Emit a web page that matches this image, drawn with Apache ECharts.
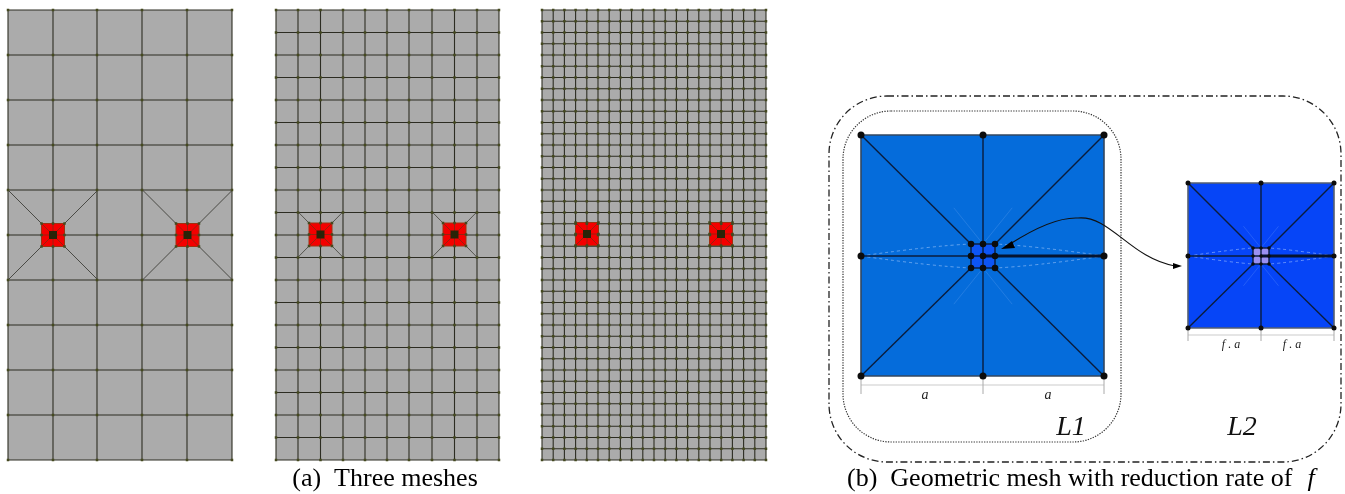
<!DOCTYPE html>
<html><head><meta charset="utf-8">
<style>html,body{margin:0;padding:0;background:#fff}#c{width:1345px;height:494px}</style>
<script src="https://cdn.jsdelivr.net/npm/echarts@6/dist/echarts.min.js"></script>
</head><body><div id="c"></div>
<script>
const mesh1X=[8,53,97,142,187,232];
const mesh1Y=[10,55,100,145,190,235,280,325,370,415,460];
const mesh2X=[276,298,320.5,343,365,387,409,432,454.5,477,499];
const mesh2Y=[10,32.5,55,77.5,100,122.5,145,167.5,190,212.5,235,257.5,280,302.5,325,347.5,370,392.5,415,437.5,460];
const mesh3X=[542,553.2,564.4,575.6,586.8,598,609.2,620.4,631.6,642.8,654,665.2,676.4,687.6,698.8,710,721.2,732.4,743.6,754.8,766];
const mesh3Y=[10,21.25,32.5,43.75,55,66.25,77.5,88.75,100,111.25,122.5,133.75,145,156.25,167.5,178.75,190,201.25,212.5,223.75,235,246.25,257.5,268.75,280,291.25,302.5,313.75,325,336.25,347.5,358.75,370,381.25,392.5,403.75,415,426.25,437.5,448.75,460];
const mesh1Holes=[[53,235],[187.5,235]];
const mesh2Holes=[[320.5,234.5],[454.5,234.5]];
const mesh3Holes=[[587,234],[721,234]];
const captionA=["(a)  Three meshes",385,479];
const captionB=["(b)  Geometric mesh with reduction rate of",847,479];
const captionF=["f",1311,479];
const levelLabels=[["L1",1071,428],["L2",1242,428]];
const dimLabels1=[["a",925,395],["a",1048,395]];
const dimLabels2=[["f . a",1231,345],["f . a",1292,345]];
const square1={left:861,right:1104,top:135,bottom:376,cx:983,cy:256,inner:12};
const square2={left:1188,right:1334,top:183,bottom:328,cx:1261,cy:256,inner:8};
const outerFrame=[829,96,1341,462];
const innerFrame=[843,111,1121,442];
const arrowCurve=[[1010,244,1035,228,1058,217,1078,218],[1078,218,1110,215,1130,258,1175,266]];
const arrowHeads=[[1001,249,1012,241,1015,248],[1182,266,1173,263,1173,269]];

function seg(rows,name,color,width,z,dash){
  return {type:'custom',name,coordinateSystem:'cartesian2d',silent:true,z,clip:false,data:rows,
    renderItem(p,api){
      const a=api.coord([api.value(0),api.value(1)]),b=api.coord([api.value(2),api.value(3)]);
      return {type:'line',shape:{x1:a[0],y1:a[1],x2:b[0],y2:b[1]},style:{stroke:color,lineWidth:width,lineDash:dash||null,fill:null}};
    }};
}
function rects(rows,name,fill,z,stroke){
  return {type:'custom',name,coordinateSystem:'cartesian2d',silent:true,z,clip:false,data:rows,
    renderItem(p,api){
      const a=api.coord([api.value(0),api.value(1)]),b=api.coord([api.value(2),api.value(3)]);
      return {type:'rect',shape:{x:a[0],y:a[1],width:b[0]-a[0],height:b[1]-a[1]},style:{fill,stroke:stroke||null,lineWidth:stroke?1:0}};
    }};
}
function frame(box,name,color,width,r,dash){
  return {type:'custom',name,coordinateSystem:'cartesian2d',silent:true,z:3,clip:false,data:[box],
    renderItem(p,api){
      const a=api.coord([api.value(0),api.value(1)]),b=api.coord([api.value(2),api.value(3)]);
      return {type:'rect',shape:{x:a[0],y:a[1],width:b[0]-a[0],height:b[1]-a[1],r},style:{fill:null,stroke:color,lineWidth:width,lineDash:dash}};
    }};
}
function quad(rows,name,color,width,z,dash){
  return {type:'custom',name,coordinateSystem:'cartesian2d',silent:true,z,clip:false,data:rows,
    renderItem(p,api){
      const a=api.coord([api.value(0),api.value(1)]),c=api.coord([api.value(2),api.value(3)]),b=api.coord([api.value(4),api.value(5)]);
      return {type:'bezierCurve',shape:{x1:a[0],y1:a[1],cpx1:c[0],cpy1:c[1],x2:b[0],y2:b[1]},style:{fill:null,stroke:color,lineWidth:width,lineDash:dash||null}};
    }};
}
function cubic(rows,name,color,width,z){
  return {type:'custom',name,coordinateSystem:'cartesian2d',silent:true,z,clip:false,data:rows,
    renderItem(p,api){
      const a=api.coord([api.value(0),api.value(1)]),c=api.coord([api.value(2),api.value(3)]),d=api.coord([api.value(4),api.value(5)]),b=api.coord([api.value(6),api.value(7)]);
      return {type:'bezierCurve',shape:{x1:a[0],y1:a[1],cpx1:c[0],cpy1:c[1],cpx2:d[0],cpy2:d[1],x2:b[0],y2:b[1]},style:{fill:null,stroke:color,lineWidth:width}};
    }};
}
function tris(rows,name,fill,z){
  return {type:'custom',name,coordinateSystem:'cartesian2d',silent:true,z,clip:false,data:rows,
    renderItem(p,api){
      const pts=[0,2,4].map(i=>api.coord([api.value(i),api.value(i+1)]));
      return {type:'polygon',shape:{points:pts},style:{fill}};
    }};
}
function nodes(pts,name,symbol,size,color,z){
  return {type:'scatter',name,data:pts,symbol,symbolSize:size,silent:true,z,clip:false,itemStyle:{color,opacity:1},animation:false};
}
function texts(rows,name,font,style,size,color,align){
  return {type:'custom',name,coordinateSystem:'cartesian2d',silent:true,z:9,clip:false,
    data:rows.map(r=>[r[1],r[2],r[0]]),
    renderItem(p,api){
      const a=api.coord([api.value(0),api.value(1)]);
      return {type:'text',x:a[0],y:a[1],style:{text:String(api.value(2)),fontFamily:font,fontStyle:style,fontSize:size,fill:color,align:align,verticalAlign:'middle'}};
    },
    encode:{x:0,y:1}, dimensions:['x','y',{name:'t',type:'ordinal'}]};
}

function gridSegs(X,Y){
  const out=[];
  X.forEach(x=>out.push([x,Y[0],x,Y[Y.length-1]]));
  Y.forEach(y=>out.push([X[0],y,X[X.length-1],y]));
  return out;
}
function gridNodes(X,Y){const o=[];X.forEach(x=>Y.forEach(y=>o.push([x,y])));return o;}
const RH=11.5, DH=4;
function holeParts(holes){
  const red=[],dark=[],inner=[],nd=[];
  holes.forEach(([x,y])=>{
    red.push([x-RH,y-RH,x+RH,y+RH]);
    dark.push([x-DH,y-DH,x+DH,y+DH]);
    [[-1,-1],[1,-1],[-1,1],[1,1]].forEach(([i,j])=>{
      inner.push([x+i*RH,y+j*RH,x+i*DH,y+j*DH]);
      nd.push([x+i*RH,y+j*RH]);
    });
    [[-1,0],[1,0],[0,-1],[0,1]].forEach(([i,j])=>{
      inner.push([x+i*RH,y+j*RH,x,y]);
      nd.push([x+i*RH,y+j*RH]);
    });
  });
  return {red,dark,inner,nd};
}
function spokes(holes,dx,dy){
  const o=[];
  holes.forEach(([x,y])=>{
    [[-1,-1],[1,-1],[-1,1],[1,1]].forEach(([i,j])=>o.push([x+i*dx,y+j*dy,x+i*RH,y+j*RH]));
  });
  return o;
}
function squareParts(s){
  const {left:l,right:r,top:t,bottom:b,cx,cy,inner:h}=s;
  return {
    fill:[[l,t,r,b]],
    innerFill:[[cx-h,cy-h,cx+h,cy+h]],
    edges:[[l,t,r,t],[l,b,r,b],[l,t,l,b],[r,t,r,b]],
    lines:[[cx,t,cx,b],[l,cy,r,cy],[l,t,cx-h,cy-h],[r,t,cx+h,cy-h],[l,b,cx-h,cy+h],[r,b,cx+h,cy+h],
      [cx-h,cy-h,cx+h,cy-h],[cx-h,cy+h,cx+h,cy+h],[cx-h,cy-h,cx-h,cy+h],[cx+h,cy-h,cx+h,cy+h]],
    thick:[[cx,cy,r,cy]],
    outerNodes:[[l,t],[cx,t],[r,t],[l,cy],[r,cy],[l,b],[cx,b],[r,b]],
    innerNodes:[[cx-h,cy-h],[cx,cy-h],[cx+h,cy-h],[cx-h,cy],[cx,cy],[cx+h,cy],[cx-h,cy+h],[cx,cy+h],[cx+h,cy+h]],
    lens:[[l,cy,(l+cx)/2+10,cy-h*0.85,cx-h,cy-h],[l,cy,(l+cx)/2+10,cy+h*0.85,cx-h,cy+h],
          [r,cy,(r+cx)/2-10,cy-h*0.85,cx+h,cy-h],[r,cy,(r+cx)/2-10,cy+h*0.85,cx+h,cy+h]],
    faint:[[cx,cy-h,cx-(r-l)*0.12,cy-h-(b-t)*0.15],[cx,cy-h,cx+(r-l)*0.12,cy-h-(b-t)*0.15],
           [cx,cy+h,cx-(r-l)*0.12,cy+h+(b-t)*0.15],[cx,cy+h,cx+(r-l)*0.12,cy+h+(b-t)*0.15]]
  };
}
const p1=holeParts(mesh1Holes),p2=holeParts(mesh2Holes),p3=holeParts(mesh3Holes);
const s1=squareParts(square1),s2=squareParts(square2);
const MESH='#2c2c22',NODE='#44491f';
const series=[
  rects([[mesh1X[0],mesh1Y[0],mesh1X[5],mesh1Y[10]],[mesh2X[0],mesh2Y[0],mesh2X[10],mesh2Y[20]],[mesh3X[0],mesh3Y[0],mesh3X[20],mesh3Y[40]]],'gray','#ababab',1),
  seg(gridSegs(mesh1X,mesh1Y),'m1',MESH,1.1,2),
  seg(gridSegs(mesh2X,mesh2Y),'m2',MESH,1.1,2),
  seg(gridSegs(mesh3X,mesh3Y),'m3',MESH,1.1,2),
  seg(spokes(mesh1Holes,45,45),'sp1','#4a4a45',1,2),
  seg(spokes(mesh2Holes,22.3,22.5),'sp2','#55554f',1,2),
  rects([...p1.red,...p2.red,...p3.red],'red','#f40000',3,'#a03010'),
  seg([...p1.inner,...p2.inner,...p3.inner],'redlines','#8f2410',0.9,4),
  nodes([...gridNodes(mesh1X,mesh1Y),...gridNodes(mesh2X,mesh2Y),...gridNodes(mesh3X,mesh3Y),...p1.nd,...p2.nd,...p3.nd],'meshNodes','rect',2.5,NODE,6),
  rects([...p1.dark,...p2.dark,...p3.dark],'dark','#2a2408',7),
  frame(outerFrame,'outer','#222',1.3,58,[7,3,1.5,3]),
  frame(innerFrame,'inner','#333',1.2,48,[1.3,1.3]),
  rects(s1.fill,'s1','#056cdb',4),
  rects(s2.fill,'s2','#0645f7',4),
  rects(s1.innerFill,'s1i','#0d55f5',5),
  rects(s2.innerFill,'s2i','#9a90f2',5),
  quad([...s1.lens,...s2.lens],'lens','rgba(190,215,255,0.5)',1,5,[3,3]),
  seg([...s1.faint,...s2.faint],'faint','rgba(150,190,250,0.2)',1,5),
  seg(s1.edges,'s1e','#33475f',1.6,6),
  seg(s2.edges,'s2e','#555f70',1.6,6),
  seg([...s1.lines,...s2.lines],'sl','#0a1c3c',1.4,7),
  seg([...s1.thick,...s2.thick],'st','#061430',3,7),
  nodes(s1.outerNodes,'s1n','circle',7,'#0c0c0c',8),
  nodes(s1.innerNodes,'s1in','circle',6.5,'#0c0c0c',8),
  nodes(s2.outerNodes,'s2n','circle',5,'#0c0c0c',8),
  nodes(s2.innerNodes,'s2in','circle',3.5,'#0c0c0c',8),
  seg([[square1.left,385,square1.right,385],[square2.left,335,square2.right,335]],'dim','#dcdcdc',1.6,3),
  seg([[square1.left,378,square1.left,394],[square1.cx,378,square1.cx,394],[square1.right,378,square1.right,394],
       [square2.left,330,square2.left,341],[square2.cx,330,square2.cx,341],[square2.right,330,square2.right,341]],'ticks','#aaaaaa',1,3),
  cubic(arrowCurve,'arrow','#111',1.1,9),
  tris(arrowHeads,'heads','#000',9),
  texts([captionA],'cap1','"Liberation Serif"','normal',26,'#000','center'),
  texts([captionB],'cap2','"Liberation Serif"','normal',26,'#000','left'),
  texts([captionF],'capf','"Liberation Serif"','italic',26,'#000','center'),
  texts(levelLabels,'lv','"Liberation Serif"','italic',28,'#111','center'),
  texts(dimLabels1,'d1','"Liberation Serif"','italic',14,'#222','center'),
  texts(dimLabels2,'d2','"Liberation Serif"','italic',12,'#222','center')
];
const chart=echarts.init(document.getElementById('c'),null,{renderer:'canvas'});
chart.setOption({
  animation:false,backgroundColor:'#fff',
  grid:{left:0,right:0,top:0,bottom:0},
  xAxis:{type:'value',min:0,max:1345,show:false},
  yAxis:{type:'value',min:0,max:494,inverse:true,show:false},
  tooltip:{show:false},legend:{show:false},
  series
});
</script></body></html>
